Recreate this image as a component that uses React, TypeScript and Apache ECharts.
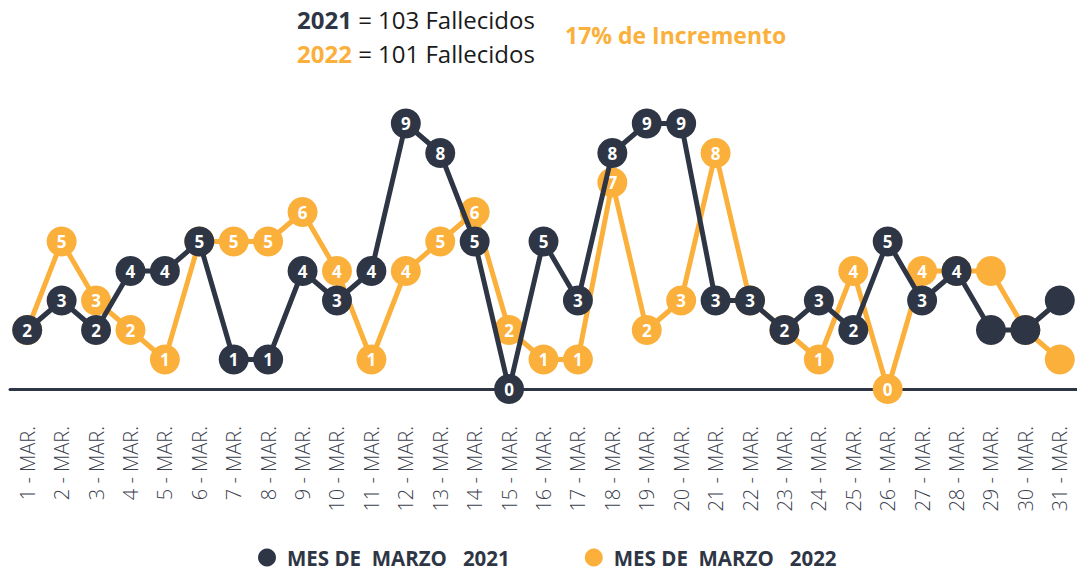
import React, { useEffect, useRef } from "react";
import * as echarts from "echarts";

const days: string[] = Array.from({ length: 31 }, (_, i) => `${i + 1} - MAR.`);
const deaths2021: number[] = [2, 3, 2, 4, 4, 5, 1, 1, 4, 3, 4, 9, 8, 5, 0, 5, 3, 8, 9, 9, 3, 3, 2, 3, 2, 5, 3, 4, 2, 2, 3];
const deaths2022: number[] = [2, 5, 3, 2, 1, 5, 5, 5, 6, 4, 1, 4, 5, 6, 2, 1, 1, 7, 2, 3, 8, 3, 2, 1, 4, 0, 4, 4, 4, 2, 1];
const labeledCount = 28;
const name2021 = "MES DE  MARZO   2021";
const name2022 = "MES DE  MARZO   2022";

const DARK = "#2e3645";
const ORANGE = "#fbb03b";
const FONT = "Open Sans";

export default function App() {
  const ref = useRef<HTMLDivElement>(null);
  useEffect(() => {
    const chart = echarts.init(ref.current!, null, { renderer: "svg" });
    const mk = (vals: number[]) =>
      vals.map((v, i) => ({ value: v, label: { show: i < labeledCount } }));
    chart.setOption({
      animation: false,
      textStyle: { fontFamily: FONT },
      grid: { left: 10, right: -5, top: 94, bottom: 182, containLabel: false },
      title: [
        {
          left: 297,
          top: 2,
          padding: 0,
          text: "{a|2021} = 103 Fallecidos\n{b|2022} = 101 Fallecidos",
          textStyle: {
            fontFamily: FONT,
            fontSize: 24,
            fontWeight: "normal",
            color: "#1a1a1a",
            lineHeight: 34,
            rich: {
              a: { fontFamily: FONT, fontSize: 24, fontWeight: "bold", color: DARK, lineHeight: 34 },
              b: { fontFamily: FONT, fontSize: 24, fontWeight: "bold", color: ORANGE, lineHeight: 34 },
            },
          },
        },
        {
          left: 565,
          top: 23,
          padding: 0,
          text: "17% de Incremento",
          textStyle: { fontFamily: FONT, fontSize: 23, fontWeight: "bold", color: ORANGE },
        },
      ],
      legend: {
        bottom: 3,
        left: 258,
        padding: 0,
        icon: "circle",
        itemWidth: 18,
        itemHeight: 18,
        itemGap: 75,
        textStyle: { fontFamily: FONT, fontSize: 20.5, fontWeight: "bold", color: DARK, padding: [0, 0, 0, 6] },
        data: [name2021, name2022],
      },
      xAxis: {
        type: "category",
        data: days,
        boundaryGap: true,
        axisLine: { lineStyle: { color: DARK, width: 3 } },
        axisTick: { show: false },
        axisLabel: {
          rotate: 90,
          margin: 37,
          interval: 0,
          fontFamily: FONT,
          fontSize: 20,
          fontWeight: 300,
          color: "#3a404c",
        },
      },
      yAxis: { type: "value", min: 0, max: 10, show: false },
      series: [
        {
          name: name2022,
          type: "line",
          z: 2,
          data: mk(deaths2022),
          symbol: "circle",
          symbolSize: 30,
          itemStyle: { color: ORANGE },
          lineStyle: { color: ORANGE, width: 5 },
          label: { show: true, position: "inside", color: "#fff", fontWeight: "bold", fontSize: 17, fontFamily: FONT },
        },
        {
          name: name2021,
          type: "line",
          z: 3,
          data: mk(deaths2021),
          symbol: "circle",
          symbolSize: 30,
          itemStyle: { color: DARK },
          lineStyle: { color: DARK, width: 5 },
          label: { show: true, position: "inside", color: "#fff", fontWeight: "bold", fontSize: 17, fontFamily: FONT },
        },
      ],
    });
    return () => chart.dispose();
  }, []);
  return (
    <div
      ref={ref}
      style={{ position: "fixed", left: 0, top: 0, width: 1077, height: 571, background: "#fff" }}
    />
  );
}
